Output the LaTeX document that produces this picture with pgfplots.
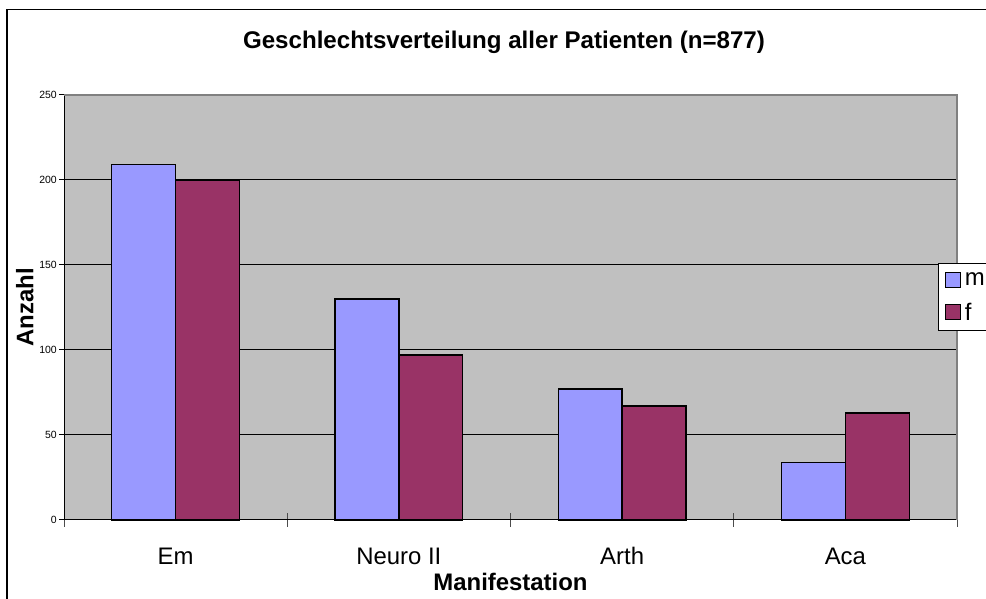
\documentclass[border=0pt]{standalone}
\usepackage{fontspec}
\setmainfont{Liberation Sans}
\usepackage{pgfplots}
\pgfplotsset{compat=1.18}
\definecolor{colm}{HTML}{9999FF}
\definecolor{colf}{HTML}{993366}
\definecolor{plotgray}{HTML}{C0C0C0}
\definecolor{edgegray}{HTML}{808080}

\begin{document}
\begin{tikzpicture}[x=1bp,y=1bp]
\path[use as bounding box] (0,0) rectangle (986,599);
\fill[white] (0,0) rectangle (986,599);
\draw[line width=1.5bp] (7,-5) -- (7,589.5) -- (995,589.5);
\node[anchor=base, font=\fontsize{24.2}{29}\selectfont\bfseries]
  at (504,550) {Geschlechtsverteilung aller Patienten (n=877)};
\begin{axis}[
  at={(64bp,79bp)}, anchor=south west,
  scale only axis, width=893bp, height=425bp,
  axis background/.style={fill=plotgray},
  axis lines=left, axis line style={-, black, line width=1bp},
  ybar=0pt, bar width=0.2864,
  xmin=-0.5, xmax=3.5, ymin=0, ymax=250,
  xtick={0,1,2,3}, xticklabels={Em,Neuro II,Arth,Aca},
  minor xtick={-0.5,0.5,1.5,2.5,3.5},
  ytick={0,50,...,250},
  major tick length=5bp, minor tick length=14bp,
  ytick align=outside, xtick align=center,
  major x tick style={draw=none},
  minor x tick style={black!70, line width=1bp},
  major y tick style={black, line width=1bp},
  ymajorgrids, grid style={black, line width=1bp},
  /pgf/number format/assume math mode=true,
  xticklabel style={font=\fontsize{24}{29}\selectfont, anchor=base, yshift=-42bp},
  yticklabel style={font=\fontsize{10.5}{12}\selectfont, inner sep=2bp},
  xlabel={Manifestation}, ylabel={Anzahl},
  label style={font=\fontsize{24}{29}\selectfont\bfseries},
  xlabel style={at={(axis description cs:0.5,-0.167)}, anchor=base},
  ylabel style={at={(axis description cs:-0.0342,0.5)}, anchor=base},
  legend style={at={(axis description cs:0.9787,0.6047)}, anchor=north west,
    draw=black, line width=1bp, fill=white, font=\fontsize{24}{29}\selectfont,
    inner xsep=6.5bp, inner ysep=8bp, row sep=14bp, column sep=2.5bp,
    nodes={inner sep=1bp}, cells={anchor=west}},
  clip=false,
]
\addplot[fill=colm, draw=black, line width=1.3bp,
  legend image code/.code={\draw[fill=colm, draw=black, line width=1.3bp] (0bp,-7.5bp) rectangle (15bp,7.5bp);}]
  coordinates {(0,209) (1,130) (2,77) (3,34)};
\addlegendentry{m}
\addplot[fill=colf, draw=black, line width=1.3bp,
  legend image code/.code={\draw[fill=colf, draw=black, line width=1.3bp] (0bp,-7.5bp) rectangle (15bp,7.5bp);}]
  coordinates {(0,200) (1,97) (2,67) (3,63)};
\addlegendentry{f}
\draw[edgegray, line width=1.5bp] (rel axis cs:0,1) -- (rel axis cs:1,1) -- (rel axis cs:1,0);
\end{axis}
\end{tikzpicture}
\end{document}
